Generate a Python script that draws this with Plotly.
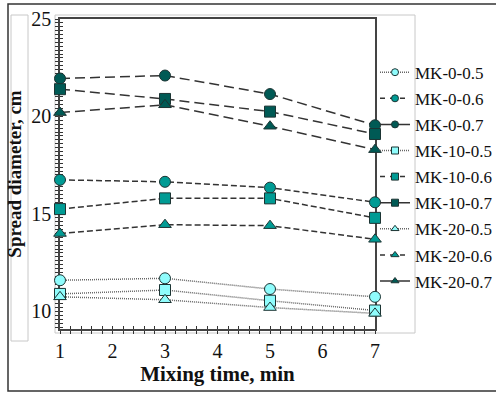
import plotly.graph_objects as go

mixing_time = [1, 3, 5, 7]
series_names = ["MK-0-0.5", "MK-0-0.6", "MK-0-0.7",
                "MK-10-0.5", "MK-10-0.6", "MK-10-0.7",
                "MK-20-0.5", "MK-20-0.6", "MK-20-0.7"]
mk0_05 = [11.6, 11.7, 11.15, 10.75]
mk0_06 = [16.75, 16.65, 16.35, 15.6]
mk0_07 = [21.95, 22.1, 21.15, 19.55]
mk10_05 = [10.9, 11.1, 10.55, 10.05]
mk10_06 = [15.25, 15.8, 15.8, 14.8]
mk10_07 = [21.4, 20.9, 20.25, 19.1]
mk20_05 = [10.75, 10.6, 10.2, 9.9]
mk20_06 = [14.0, 14.45, 14.4, 13.7]
mk20_07 = [20.2, 20.6, 19.5, 18.3]
series_values = [mk0_05, mk0_06, mk0_07, mk10_05, mk10_06, mk10_07, mk20_05, mk20_06, mk20_07]

y_ticks = [10, 15, 20, 25]
x_ticks = [1, 2, 3, 4, 5, 6, 7]

fills = {"0.5": "#8ffcfc", "0.6": "#009b94", "0.7": "#005a55"}
dashes = {"0.5": "1px,1px", "0.6": "6px,3px", "0.7": "10px,5px"}
leg_dashes = {"0.5": "1px,1px", "0.6": "5px,5px", "0.7": "solid"}
line_cols = {"0.5": "#666666", "0.6": "#333333", "0.7": "#333333"}
symbols = {"MK-0": "circle", "MK-10": "square", "MK-20": "triangle-up"}

fig = go.Figure()
for name, vals in zip(series_names, series_values):
    mix, wc = name.rsplit("-", 1)
    fig.add_trace(go.Scatter(
        x=mixing_time, y=vals, mode="lines+markers", showlegend=False,
        cliponaxis=False,
        line=dict(color=line_cols[wc], width=1.5, dash=dashes[wc]),
        marker=dict(symbol=symbols[mix], size=11, color=fills[wc],
                    line=dict(color="#1c3433", width=1)),
    ))
for name in series_names:
    mix, wc = name.rsplit("-", 1)
    fig.add_trace(go.Scatter(
        x=[None], y=[None], mode="lines+markers", name=name, legendgroup=name,
        line=dict(color=line_cols[wc], width=1.5, dash=leg_dashes[wc]),
        marker=dict(symbol=symbols[mix], size=7, color=fills[wc],
                    line=dict(color="#1c3433", width=1)),
    ))

axis_font = dict(family="Liberation Serif", size=20, color="#111111")

fig.update_layout(
    width=496, height=393,
    margin=dict(l=60, r=121, t=19, b=64, autoexpand=False),
    paper_bgcolor="white", plot_bgcolor="white",
    showlegend=True,
    legend=dict(x=1.0, y=0.885, xanchor="left", yanchor="top",
                font=dict(family="Liberation Serif", size=17, color="#111111"),
                tracegroupgap=1, itemwidth=30, bgcolor="rgba(0,0,0,0)"),
    xaxis=dict(range=[1, 7], tickvals=x_ticks, ticks="outside", ticklen=3,
               tickcolor="#333", tickfont=axis_font, showgrid=False, zeroline=False,
               showline=True, linecolor="#444", linewidth=1.5, mirror=True,
               layer="below traces", automargin=False,
               minor=dict(dtick=0.2, ticks="outside", ticklen=3, tickcolor="#333"),
               title=dict(text="<b>Mixing time, min</b>",
                          font=dict(family="Liberation Serif", size=21, color="#111111"),
                          standoff=3)),
    yaxis=dict(range=[9.1, 25], tickvals=y_ticks, ticks="outside", ticklen=3,
               tickcolor="#333", tickfont=axis_font, showgrid=False, zeroline=False,
               showline=True, linecolor="#444", linewidth=1.5, mirror=True,
               layer="below traces", automargin=False,
               minor=dict(dtick=0.2, tick0=0, ticks="outside", ticklen=3, tickcolor="#333"),
               title=dict(text="<b>Spread diameter, cm</b>",
                          font=dict(family="Liberation Serif", size=19, color="#111111"),
                          standoff=5)),
    xaxis2=dict(overlaying="x", matches="x", range=[1, 7], anchor="y", side="bottom",
                tickvals=x_ticks, ticks="inside", ticklen=3, tickcolor="#333",
                showticklabels=False, showgrid=False, zeroline=False, showline=False,
                layer="below traces", automargin=False,
                minor=dict(dtick=0.2, ticks="inside", ticklen=3, tickcolor="#333")),
    yaxis2=dict(overlaying="y", range=[9.1, 25], anchor="x", side="left",
                tickvals=y_ticks, ticks="inside", ticklen=3, tickcolor="#333",
                showticklabels=False, showgrid=False, zeroline=False, showline=False,
                layer="below traces", automargin=False,
                minor=dict(dtick=0.2, tick0=0, ticks="inside", ticklen=3, tickcolor="#333")),
)
fig.add_trace(go.Scatter(x=[None], y=[None], xaxis="x2", yaxis="y2", showlegend=False,
                         hoverinfo="skip"))

def px(x0, y0, x1, y1, color, width):
    fig.add_shape(type="rect", xref="paper", yref="paper",
                  x0=(x0 - 60) / 315, x1=(x1 - 60) / 315,
                  y0=(329 - y1) / 310, y1=(329 - y0) / 310,
                  line=dict(color=color, width=width), fillcolor="rgba(0,0,0,0)",
                  layer="below")

px(8, 4, 520, 391, "#333333", 1.5)
px(55, 15, 415, 333, "#c8c8c8", 1)
px(11, 15, 28, 341, "#c8c8c8", 1)

fig.write_html("out.html")
